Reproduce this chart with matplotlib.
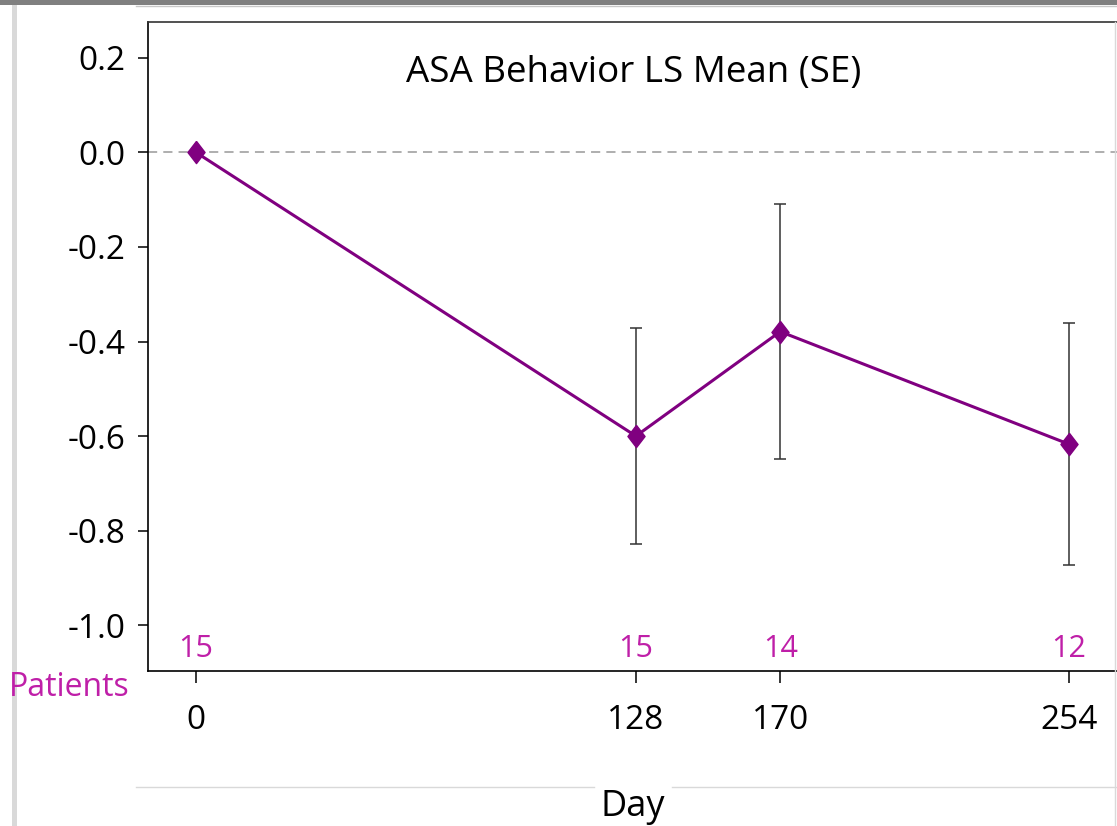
import numpy as np
import matplotlib
matplotlib.use('Agg')
import matplotlib.pyplot as plt
from matplotlib.lines import Line2D
from matplotlib.patches import Rectangle

plt.rcParams['font.family'] = ['Open Sans', 'DejaVu Sans']

# data
days = [0, 128, 170, 254]
ls_mean = [0.0, -0.600, -0.379, -0.617]
se = [0.0, 0.228, 0.269, 0.256]
patients = [15, 15, 14, 12]

purple = '#800080'
magenta = '#bf1fa8'

W, H = 1117, 826
fig = plt.figure(figsize=(W / 100, H / 100), dpi=100)
ax = fig.add_axes([148 / W, 1 - 671 / H, (1119 - 148) / W, (671 - 22) / H])

# zero reference line
ax.axhline(0, color='#999999', lw=1.1, ls=(0, (6, 4)), zorder=1)

# error bars (baseline has none)
ax.errorbar(days[1:], ls_mean[1:], yerr=se[1:], fmt='none', ecolor='#333333',
            elinewidth=1.1, capsize=4.5, capthick=1.1, zorder=2)

diamond = [(0, 1), (0.77, 0), (0, -1), (-0.77, 0), (0, 1)]
ax.plot(days, ls_mean, color=purple, lw=2.2, marker=diamond, markersize=16,
        markerfacecolor=purple, markeredgecolor=purple, zorder=3)

# patient counts
for d, n in zip(days, patients):
    ax.text(d, -1.05, str(n), color=magenta, fontsize=22, ha='center', va='center')

ax.text(0.5, 0.921, 'ASA Behavior LS Mean (SE)', transform=ax.transAxes,
        ha='center', va='center', fontsize=26.5)

ax.set_xlim(-14, 268.6)
ax.set_ylim(-1.097, 0.276)
ax.set_xticks(days)
ax.set_xticklabels([str(d) for d in days])
ax.set_yticks([0.2, 0.0, -0.2, -0.4, -0.6, -0.8, -1.0])
ax.yaxis.set_major_formatter(plt.FuncFormatter(lambda v, p: f'{v:.1f}'))
ax.tick_params(axis='x', length=8.5, width=1.1, pad=15, labelsize=24)
ax.tick_params(axis='y', length=7, width=1.1, pad=9, labelsize=24)
for s in ax.spines.values():
    s.set_linewidth(1.2)
ax.spines['top'].set_color('#333333')

fig.text(130 / W, 1 - 688 / H, 'Patients', color=magenta, fontsize=23,
         ha='right', va='center')

# page decorations around the cropped chart
fig.add_artist(Rectangle((0, 1 - 5 / H), 1, 5 / H, transform=fig.transFigure,
                         color='#808080', lw=0))
fig.add_artist(Line2D([136 / W, 1], [1 - 6 / H] * 2, color='#c8c8c8', lw=1))
fig.add_artist(Rectangle((12 / W, 0), 5 / W, 1 - 5 / H, transform=fig.transFigure,
                         color='#d9d9d9', lw=0))
fig.add_artist(Line2D([1115 / W] * 2, [0, 1 - 22 / H], color='#d9d9d9', lw=1))
fig.add_artist(Line2D([136 / W, 594 / W], [1 - 787 / H] * 2, color='#d9d9d9', lw=1))
fig.add_artist(Line2D([672 / W, 1], [1 - 787 / H] * 2, color='#d9d9d9', lw=1))
fig.text(633 / W, 1 - 816 / H, 'Day', fontsize=26, ha='center', va='baseline')

fig.savefig('out.png', dpi=100)
